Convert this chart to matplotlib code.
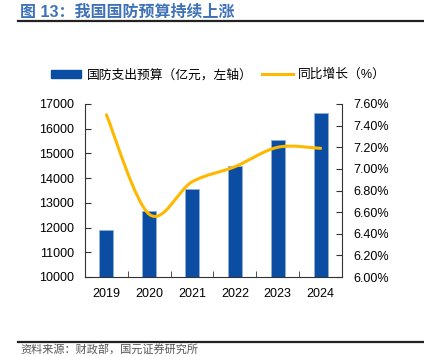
import numpy as np
import matplotlib.pyplot as plt
from matplotlib.path import Path
from matplotlib.patches import PathPatch, Patch
from matplotlib.lines import Line2D

plt.rcParams['font.family'] = ['Liberation Sans', 'Noto Sans CJK SC', 'DejaVu Sans']

# data
years = ['2019', '2020', '2021', '2022', '2023', '2024']
budget = [11899, 12680, 13553, 14504, 15537, 16655]   # 亿元
growth = [7.50, 6.58, 6.88, 7.02, 7.20, 7.19]           # %

bar_color = '#0B4DA2'
line_color = '#FFB800'

fig = plt.figure(figsize=(4.24, 3.56), dpi=100)
ax = fig.add_axes([85/424, 1 - 277/356, (342 - 85)/424, (277 - 104)/356])

x = np.arange(len(years))
ax.bar(x, budget, width=0.33, color=bar_color, edgecolor='#8FB0DA', linewidth=0.6, zorder=2)
ax.set_xlim(-0.5, len(years) - 0.5)
ax.set_ylim(10000, 17000)
ax.set_yticks(range(10000, 17001, 1000))
ax.set_xticks(x)
ax.set_xticklabels(years)
ax.set_xticks(np.arange(-0.5, len(years)), minor=True)
ax.tick_params(axis='x', which='major', length=0, pad=8, labelsize=9)
ax.tick_params(axis='x', which='minor', length=4, direction='in', color='#333333')
ax.tick_params(axis='y', direction='in', length=4, labelsize=9, pad=8, color='#333333')
for s in ['top', 'right']:
    ax.spines[s].set_visible(False)
for s in ['left', 'bottom']:
    ax.spines[s].set_color('#333333')
    ax.spines[s].set_linewidth(0.8)

ax2 = ax.twinx()
ax2.set_ylim(6.0, 7.6)
ax2.set_yticks(np.arange(6.0, 7.61, 0.2))
ax2.set_yticklabels([f'{v:.2f}%' for v in np.arange(6.0, 7.61, 0.2)])
ax2.tick_params(axis='y', direction='in', length=4, labelsize=9, pad=8, color='#333333')
for s in ['top', 'left', 'bottom']:
    ax2.spines[s].set_visible(False)
ax2.spines['right'].set_color('#333333')
ax2.spines['right'].set_linewidth(0.8)

# smoothed line (Excel-style bezier through the points)
pts = np.column_stack([x, growth]).astype(float)
verts = [pts[0]]
codes = [Path.MOVETO]
n = len(pts)
for i in range(n - 1):
    p0 = pts[i - 1] if i > 0 else pts[i]
    p1 = pts[i]
    p2 = pts[i + 1]
    p3 = pts[i + 2] if i + 2 < n else pts[i + 1]
    c1 = p1 + (p2 - p0) / 6
    c2 = p2 - (p3 - p1) / 6
    verts += [c1, c2, p2]
    codes += [Path.CURVE4] * 3
ax2.add_patch(PathPatch(Path(verts, codes), facecolor='none', edgecolor=line_color,
                        linewidth=2.2, capstyle='round', zorder=3))

# legend
handles = [Patch(facecolor=bar_color, edgecolor=bar_color),
           Line2D([], [], color=line_color, linewidth=2.2)]
fig.legend(handles, ['国防支出预算（亿元，左轴）', '同比增长（%）'],
           loc='center', bbox_to_anchor=(0.515, 1 - 75/356), ncol=2, frameon=False,
           fontsize=9.2, handlelength=2.4, handleheight=0.6, columnspacing=0.8,
           handletextpad=0.4)

# title and rules
fig.text(20/424, 1 - 12/356, '图 13：我国国防预算持续上涨', color='#3E72B8',
         fontsize=11.5, fontweight='bold', va='center', ha='left')
fig.add_artist(Line2D([18/424, 1], [1 - 20.5/356] * 2, color='#222222', linewidth=1.6))
fig.add_artist(Line2D([18/424, 1], [1 - 342/356] * 2, color='#222222', linewidth=1.6))
fig.text(20/424, 1 - 350/356, '资料来源：财政部，国元证券研究所', color='#555555',
         fontsize=8, va='center', ha='left')

fig.savefig('out.png', dpi=100)
